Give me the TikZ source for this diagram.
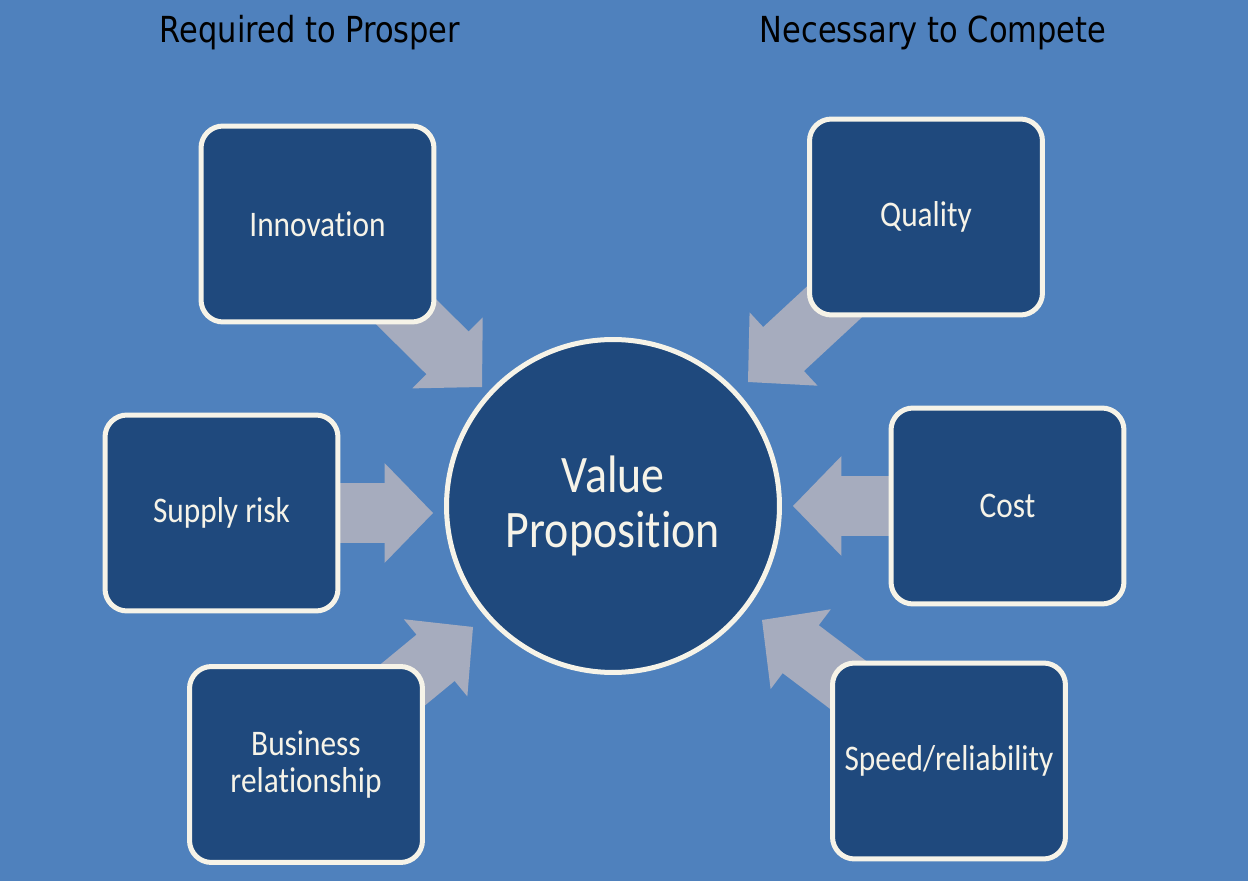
\documentclass[tikz,border=0pt]{standalone}
\usepackage{fontspec}
\usetikzlibrary{calc}
\newfontfamily\boxfont{Carlito}[FakeStretch=0.87,RawFeature={-liga}]
\newfontfamily\titlefont{DejaVu Sans}[FakeStretch=0.85]
\definecolor{bgblue}{RGB}{79,129,189}
\definecolor{boxblue}{RGB}{31,73,125}
\definecolor{cream}{RGB}{246,243,232}
\definecolor{arrowgray}{RGB}{166,172,190}
\pgfdeclarelayer{bglayer}
\pgfdeclarelayer{arrowlayer}
\pgfsetlayers{bglayer,arrowlayer,main}
\tikzset{
  boxnode/.style={draw=cream, fill=boxblue, line width=0.1cm, rounded corners=0.44cm,
    minimum width=4.66cm, minimum height=3.92cm, text=cream, align=center,
    inner sep=0pt, font=\boxfont\fontsize{20.5}{21.5}\selectfont},
  centernode/.style={draw=cream, fill=boxblue, line width=0.1cm, circle,
    minimum size=6.66cm, text=cream, align=center, inner sep=0pt,
    font=\boxfont\fontsize{30}{31.2}\selectfont},
  titlenode/.style={text=black, font=\titlefont\fontsize{20.4}{22}\selectfont},
  blockarrow/.style={fill=arrowgray}
}
% block arrow from point #1 (start) to point #2 (tip)
\newcommand\blockarr[2]{%
  \coordinate (hb) at ($(#2)!0.97cm!(#1)$);
  \fill[blockarrow]
    ($(#1)!0.6cm!90:(#2)$) -- ($(hb)!0.6cm!90:(#2)$) -- ($(hb)!1cm!90:(#2)$)
    -- (#2)
    -- ($(hb)!1cm!-90:(#2)$) -- ($(hb)!0.6cm!-90:(#2)$) -- ($(#1)!0.6cm!-90:(#2)$)
    -- cycle;}
\begin{document}
\begin{tikzpicture}[x=0.02cm,y=-0.02cm]
\useasboundingbox (0,0) rectangle (1248,881);
\begin{pgfonlayer}{bglayer}
  \fill[bgblue] (0,0) rectangle (1248,881);
\end{pgfonlayer}
\node[titlenode] (t1) at (310,33) {Required to Prosper};
\node[titlenode] (t2) at (933,33) {Necessary to Compete};

\node[centernode] (vp) at (613,506) {Value\\Proposition};

\node[boxnode] (innov) at (317.5,224) {Innovation};
\node[boxnode] (qual) at (926,217) {Quality};
\node[boxnode] (supply) at (221.5,513) {Supply risk};
\node[boxnode] (cost) at (1007.5,506) {Cost};
\node[boxnode] (bus) at (306,764.5) {Business\\relationship};
\node[boxnode] (speed) at (949,761) {Speed/reliability};

\coordinate (tinnov) at (482,387);
\coordinate (tqual) at (748,382);
\coordinate (tsupply) at (433,513);
\coordinate (tcost) at (793,506);
\coordinate (tbus) at (473,627);
\coordinate (tspeed) at (762,620);

\begin{pgfonlayer}{arrowlayer}
  \blockarr{innov.center}{tinnov}
  \blockarr{qual.center}{tqual}
  \blockarr{supply.center}{tsupply}
  \blockarr{cost.center}{tcost}
  \blockarr{bus.center}{tbus}
  \blockarr{speed.center}{tspeed}
\end{pgfonlayer}
\end{tikzpicture}
\end{document}
